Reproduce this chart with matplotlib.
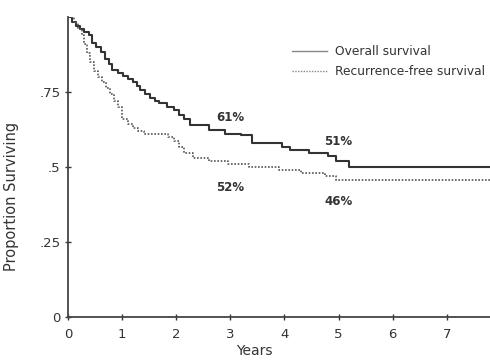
import matplotlib
matplotlib.use("Agg")
import matplotlib.pyplot as plt

# Overall survival (Kaplan-Meier steps)
os_times = [0, 0.08, 0.15, 0.22, 0.3, 0.38, 0.45, 0.52, 0.6, 0.68, 0.75, 0.82, 0.92, 1.02,
            1.1, 1.2, 1.27, 1.33, 1.42, 1.52, 1.6, 1.68, 1.83, 1.95, 2.05, 2.15, 2.25,
            2.6, 2.9, 3.2, 3.4, 3.95, 4.1, 4.45, 4.8, 4.95, 5.2, 7.8]
os_values = [1.0, 0.985, 0.97, 0.96, 0.95, 0.94, 0.915, 0.90, 0.885, 0.86, 0.845, 0.825, 0.815, 0.805,
             0.795, 0.785, 0.77, 0.757, 0.745, 0.73, 0.72, 0.712, 0.70, 0.69, 0.675, 0.66, 0.64,
             0.625, 0.61, 0.605, 0.58, 0.565, 0.555, 0.545, 0.535, 0.52, 0.50, 0.50]

# Recurrence-free survival
rfs_times = [0, 0.1, 0.18, 0.25, 0.3, 0.35, 0.4, 0.47, 0.55, 0.62, 0.7, 0.78, 0.85, 0.92, 1.0,
             1.1, 1.2, 1.3, 1.4, 1.85, 1.95, 2.05, 2.15, 2.3, 2.6, 2.95, 3.35, 3.9, 4.3, 4.75, 4.95, 7.8]
rfs_values = [1.0, 0.98, 0.96, 0.94, 0.91, 0.88, 0.85, 0.82, 0.80, 0.785, 0.765, 0.745, 0.72, 0.70, 0.66,
              0.645, 0.63, 0.62, 0.61, 0.60, 0.585, 0.565, 0.545, 0.53, 0.52, 0.51, 0.50, 0.49, 0.48, 0.47, 0.457, 0.457]

x_ticks = [0, 1, 2, 3, 4, 5, 6, 7]
y_ticks = [0, 0.25, 0.5, 0.75]
y_tick_labels = ["0", ".25", ".5", ".75"]

annotations = [(3, 0.665, "61%"), (5, 0.585, "51%"), (3, 0.43, "52%"), (5, 0.385, "46%")]

plt.rcParams['font.family'] = ['DejaVu Sans']

fig = plt.figure(figsize=(4.9, 3.63), dpi=100)
ax = fig.add_axes([0.139, 0.127, 0.861, 0.826])

col = '#333333'
ax.step(os_times, os_values, where='post', color=col, lw=1.5, label='Overall survival')
ax.step(rfs_times, rfs_values, where='post', color='#555555', lw=1.2, linestyle=(0, (1.0, 1.0)),
        label='Recurrence-free survival')

for x, y, t in annotations:
    ax.text(x, y, t, ha='center', va='center', fontsize=8.5, fontweight='bold', color='#333333')

ax.set_xlim(0, 7.8)
ax.set_ylim(0, 1.0)
ax.set_xticks(x_ticks)
ax.set_yticks(y_ticks)
ax.set_yticklabels(y_tick_labels)
ax.tick_params(direction='inout', length=4, width=1, colors='#333333', labelsize=9.5)
ax.tick_params(axis='x', pad=6)
for s in ['top', 'right']:
    ax.spines[s].set_visible(False)
for s in ['left', 'bottom']:
    ax.spines[s].set_color('#444444')
    ax.spines[s].set_linewidth(1.3)

ax.set_xlabel('Years', fontsize=10, color='#333333', va='center')
ax.xaxis.set_label_coords((254 - 68) / 422, -(351 - 317) / 300)
ax.set_ylabel('Proportion Surviving', fontsize=10.5, color='#333333')
ax.yaxis.set_label_coords(-(68 - 19) / 422, (317 - 196) / 300)

leg = ax.legend(frameon=False, loc='upper left', bbox_to_anchor=((292 - 68) / 422, (317 - 45) / 300),
                fontsize=8.8, handlelength=2.9, borderpad=0, borderaxespad=0,
                labelspacing=0.6, handletextpad=0.6)
for line in leg.get_lines():
    line.set_color('#888888')
    line.set_linewidth(1.0)
for t in leg.get_texts():
    t.set_color('#333333')

fig.savefig('out.png', dpi=100)
